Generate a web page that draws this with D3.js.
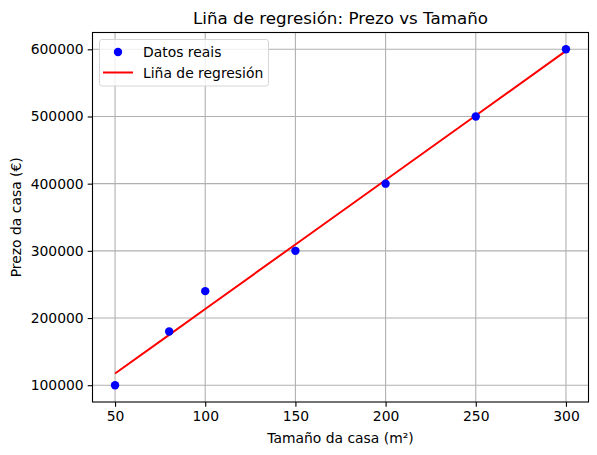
<!DOCTYPE html>
<html>
<head>
<meta charset="utf-8">
<script src="https://cdn.jsdelivr.net/npm/d3@7"></script>
<style>
  body { margin: 0; background: #fff; }
  text { font-family: "DejaVu Sans", sans-serif; fill: #000; }
</style>
</head>
<body>
<div id="chart"></div>
<script>
'use strict';

// data
var sizes = [50, 80, 100, 150, 200, 250, 300],
    prices = [100000, 180000, 240000, 300000, 400000, 500000, 600000],
    fitted = [117400, 175000, 213400, 309500, 405500, 501500, 597600],
    xTicks = [50, 100, 150, 200, 250, 300],
    yTicks = [100000, 200000, 300000, 400000, 500000, 600000];

var W = 597, H = 455;
var margin = {left: 92.5, right: 8.5, top: 32.5, bottom: 53};
var iw = W - margin.left - margin.right,
    ih = H - margin.top - margin.bottom;
var fs = '13.9px';

var svg = d3.select('#chart').append('svg')
    .attr('width', W)
    .attr('height', H);

var x = d3.scaleLinear().domain([37.5, 312.5]).range([0, iw]);
var y = d3.scaleLinear().domain([75000, 625000]).range([ih, 0]);

var g = svg.append('g')
    .attr('transform', 'translate(' + margin.left + ',' + margin.top + ')');

// grid
g.append('g').selectAll('line').data(xTicks).enter().append('line')
    .attr('x1', function(d){ return x(d); })
    .attr('x2', function(d){ return x(d); })
    .attr('y1', 0).attr('y2', ih)
    .style('stroke', '#b0b0b0').style('stroke-width', 1.1);
g.append('g').selectAll('line').data(yTicks).enter().append('line')
    .attr('y1', function(d){ return y(d); })
    .attr('y2', function(d){ return y(d); })
    .attr('x1', 0).attr('x2', iw)
    .style('stroke', '#b0b0b0').style('stroke-width', 1.1);

// axes
var xAxis = g.append('g')
    .attr('transform', 'translate(0,' + ih + ')')
    .call(d3.axisBottom(x).tickValues(xTicks).tickSize(4.8).tickPadding(4).tickFormat(d3.format('d')));
var yAxis = g.append('g')
    .call(d3.axisLeft(y).tickValues(yTicks).tickSize(4.8).tickPadding(4).tickFormat(d3.format('d')));

[xAxis, yAxis].forEach(function(a){
    a.select('.domain').remove();
    a.selectAll('text').style('font-size', fs).style('font-family', '"DejaVu Sans", sans-serif');
    a.selectAll('line').style('stroke', '#000').style('stroke-width', 1.1);
});

// regression line
var line = d3.line()
    .x(function(d, i){ return x(sizes[i]); })
    .y(function(d){ return y(d); });
g.append('path')
    .datum(fitted)
    .attr('d', line)
    .style('fill', 'none')
    .style('stroke', '#ff0000')
    .style('stroke-width', 2);

// scatter
g.append('g').selectAll('circle').data(prices).enter().append('circle')
    .attr('cx', function(d, i){ return x(sizes[i]); })
    .attr('cy', function(d){ return y(d); })
    .attr('r', 4.2)
    .style('fill', '#0000ff');

// frame
g.append('rect')
    .attr('width', iw).attr('height', ih)
    .style('fill', 'none').style('stroke', '#000').style('stroke-width', 1.1);

// legend
var lg = g.append('g').attr('transform', 'translate(7,7)');
lg.append('rect')
    .attr('width', 169).attr('height', 46.5).attr('rx', 2.5)
    .style('fill', 'rgba(255,255,255,0.8)')
    .style('stroke', '#d6d6d6').style('stroke-width', 1);
lg.append('circle').attr('cx', 18.5).attr('cy', 12.5).attr('r', 4.2).style('fill', '#0000ff');
lg.append('line').attr('x1', 3.5).attr('x2', 33.5).attr('y1', 33).attr('y2', 33)
    .style('stroke', '#ff0000').style('stroke-width', 2);
lg.append('text').attr('x', 43.5).attr('y', 17.5).style('font-size', fs).text('Datos reais');
lg.append('text').attr('x', 43.5).attr('y', 38).style('font-size', fs).text('Liña de regresión');

// titles
svg.append('text')
    .attr('x', margin.left + iw / 2).attr('y', 24)
    .attr('text-anchor', 'middle')
    .style('font-size', '16.7px')
    .text('Liña de regresión: Prezo vs Tamaño');
svg.append('text')
    .attr('x', margin.left + iw / 2).attr('y', 443)
    .attr('text-anchor', 'middle')
    .style('font-size', fs)
    .text('Tamaño da casa (m²)');
svg.append('text')
    .attr('transform', 'translate(20.5,' + (margin.top + ih / 2) + ') rotate(-90)')
    .attr('text-anchor', 'middle')
    .style('font-size', fs)
    .text('Prezo da casa (€)');
</script>
</body>
</html>
